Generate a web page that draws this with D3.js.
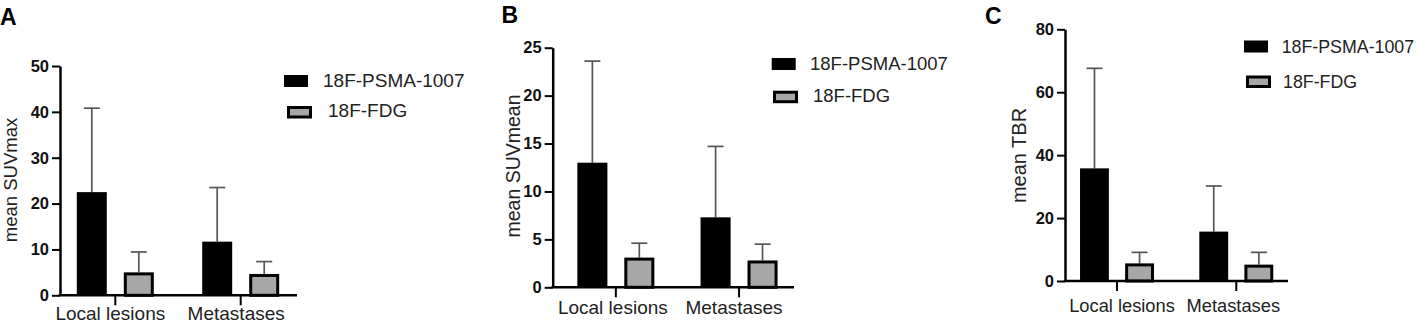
<!DOCTYPE html>
<html>
<head>
<meta charset="utf-8">
<script src="https://cdn.jsdelivr.net/npm/d3@7"></script>
<style>
  html, body { margin: 0; padding: 0; background: #fff; }
  svg { display: block; font-family: "Liberation Sans", Arial, sans-serif; }
</style>
</head>
<body>
<svg id="chart" width="1417" height="324"></svg>
<script>
// ---------- data ----------
const categories = ["Local lesions", "Metastases"];
const seriesNames = ["18F-PSMA-1007", "18F-FDG"];

// Panel A: mean SUVmax
const suvmaxPsmaMean = [22.5, 11.7];
const suvmaxPsmaSD   = [18.3, 11.8];
const suvmaxFdgMean  = [5.0, 4.65];
const suvmaxFdgSD    = [4.45, 2.7];
const suvmaxTicks    = [0, 10, 20, 30, 40, 50];

// Panel B: mean SUVmean
const suvmeanPsmaMean = [13.0, 7.3];
const suvmeanPsmaSD   = [10.6, 7.4];
const suvmeanFdgMean  = [3.1, 2.8];
const suvmeanFdgSD    = [1.5, 1.7];
const suvmeanTicks    = [0, 5, 10, 15, 20, 25];

// Panel C: mean TBR
const tbrPsmaMean = [35.8, 15.7];
const tbrPsmaSD   = [31.8, 14.5];
const tbrFdgMean  = [5.6, 5.2];
const tbrFdgSD    = [3.5, 3.9];
const tbrTicks    = [0, 20, 40, 60, 80];

// ---------- layout ----------
const panels = [
  { letter: "A", title: "mean SUVmax", psma: suvmaxPsmaMean, psmaSD: suvmaxPsmaSD, fdg: suvmaxFdgMean, fdgSD: suvmaxFdgSD, ticks: suvmaxTicks,
    ax: 60, axEnd: 297, bandW: 236, pi: 0.386, po: 0.134, y0: 295.3, yTop: 66, titleX: 16.5, titleY: 180, titleSize: 18.5,
    letterX: 0, letterY: 25, catDy: 25, catSize: 19, catOff: [-5, -4.5], barPad: 0.362, legSize: 19,
    leg: { x1: 284, y1: 75, x2: 287, y2: 106, tx1: 323, ty1: 87.3, tx2: 328, ty2: 117.3 } },
  { letter: "B", title: "mean SUVmean", psma: suvmeanPsmaMean, psmaSD: suvmeanPsmaSD, fdg: suvmeanFdgMean, fdgSD: suvmeanFdgSD, ticks: suvmeanTicks,
    ax: 552.7, axEnd: 794, bandW: 249.5, pi: 0.375, po: 0.2, y0: 287.3, yTop: 47.7, titleX: 520, titleY: 166, titleSize: 19.5,
    letterX: 501.5, letterY: 23.3, catDy: 27, catSize: 19, catOff: [-3, -5], barPad: 0.36, legSize: 18.5,
    leg: { x1: 771.7, y1: 58, x2: 773, y2: 90.7, tx1: 810, ty1: 70, tx2: 813, ty2: 102 } },
  { letter: "C", title: "mean TBR", psma: tbrPsmaMean, psmaSD: tbrPsmaSD, fdg: tbrFdgMean, fdgSD: tbrFdgSD, ticks: tbrTicks,
    ax: 1065, axEnd: 1288, bandW: 223.3, pi: 0.38, po: 0.126, y0: 281, yTop: 29.3, titleX: 1026, titleY: 155.5, titleSize: 20,
    letterX: 985, letterY: 24, catDy: 30.5, catSize: 18.3, catOff: [5, -3], barPad: 0.36, legSize: 17.8,
    leg: { x1: 1244, y1: 40.5, x2: 1246, y2: 75.5, tx1: 1281.7, ty1: 53.3, tx2: 1283, ty2: 88 } }
];

const svg = d3.select("#chart");
const fillColors = { "18F-PSMA-1007": "#000000", "18F-FDG": "#a7a7a7" };

panels.forEach(p => {
  const g = svg.append("g");
  const maxV = d3.max(p.ticks);
  const y = d3.scaleLinear().domain([0, maxV]).range([p.y0, p.yTop]);
  const x0 = d3.scaleBand().domain(categories).range([p.ax, p.ax + p.bandW])
    .paddingInner(p.pi).paddingOuter(p.po);
  const x1 = d3.scaleBand().domain(seriesNames).range([0, x0.bandwidth()])
    .paddingInner(p.barPad).paddingOuter(0);

  const rows = [];
  categories.forEach((c, i) => {
    rows.push({ cat: c, s: seriesNames[0], v: p.psma[i], sd: p.psmaSD[i] });
    rows.push({ cat: c, s: seriesNames[1], v: p.fdg[i], sd: p.fdgSD[i] });
  });

  // error bars
  const eb = g.append("g").attr("stroke", "#555").attr("stroke-width", 1.7).attr("fill", "none");
  rows.forEach(r => {
    const cx = x0(r.cat) + x1(r.s) + x1.bandwidth() / 2;
    eb.append("line").attr("x1", cx).attr("x2", cx).attr("y1", y(r.v)).attr("y2", y(r.v + r.sd));
    eb.append("line").attr("x1", cx - 8).attr("x2", cx + 8).attr("y1", y(r.v + r.sd)).attr("y2", y(r.v + r.sd));
  });

  // bars
  rows.forEach(r => {
    const bx = x0(r.cat) + x1(r.s);
    if (r.s === seriesNames[0]) {
      g.append("rect").attr("x", bx).attr("y", y(r.v)).attr("width", x1.bandwidth())
        .attr("height", y(0) - y(r.v)).attr("fill", fillColors[r.s]);
    } else {
      g.append("rect").attr("x", bx + 1.5).attr("y", y(r.v) + 1.5).attr("width", x1.bandwidth() - 3)
        .attr("height", y(0) - y(r.v) - 1.5).attr("fill", fillColors[r.s])
        .attr("stroke", "#000").attr("stroke-width", 3);
    }
  });

  // y axis
  const yAxis = d3.axisLeft(y).tickValues(p.ticks).tickSize(8).tickSizeOuter(0).tickPadding(3);
  const ya = g.append("g").attr("transform", `translate(${p.ax},0)`).call(yAxis);
  ya.select(".domain").attr("stroke", "#000").attr("stroke-width", 2.5);
  ya.selectAll(".tick line").attr("stroke", "#000").attr("stroke-width", 2);
  ya.selectAll(".tick text").attr("fill", "#111").attr("font-size", 16.5).attr("font-weight", "bold")
    .attr("font-family", "'Liberation Sans', Arial, sans-serif");

  // x axis
  g.append("line").attr("x1", p.ax - 1.25).attr("x2", p.axEnd).attr("y1", p.y0).attr("y2", p.y0)
    .attr("stroke", "#000").attr("stroke-width", 2.5);
  const xa = g.append("g");
  categories.forEach((c, i) => {
    const cx = x0(c) + x0.bandwidth() / 2;
    xa.append("line").attr("x1", cx).attr("x2", cx).attr("y1", p.y0).attr("y2", p.y0 + 10)
      .attr("stroke", "#000").attr("stroke-width", 2);
    xa.append("text").attr("x", cx + p.catOff[i]).attr("y", p.y0 + p.catDy).attr("text-anchor", "middle")
      .attr("font-size", p.catSize).attr("fill", "#222").text(c);
  });

  // y title
  g.append("text").attr("transform", `translate(${p.titleX},${p.titleY}) rotate(-90)`)
    .attr("text-anchor", "middle").attr("font-size", p.titleSize).attr("fill", "#222").text(p.title);

  // panel letter
  g.append("text").attr("x", p.letterX).attr("y", p.letterY).attr("font-size", 23)
    .attr("font-weight", "bold").attr("fill", "#000").text(p.letter);

  // legend
  const L = p.leg;
  g.append("rect").attr("x", L.x1).attr("y", L.y1).attr("width", 24).attr("height", 12).attr("fill", "#000");
  g.append("rect").attr("x", L.x2 + 1.5).attr("y", L.y2 + 1.5).attr("width", 22).attr("height", 9.5)
    .attr("fill", fillColors[seriesNames[1]]).attr("stroke", "#000").attr("stroke-width", 3);
  g.append("text").attr("x", L.tx1).attr("y", L.ty1).attr("font-size", p.legSize).attr("fill", "#222").text(seriesNames[0]);
  g.append("text").attr("x", L.tx2).attr("y", L.ty2).attr("font-size", p.legSize).attr("fill", "#222").text(seriesNames[1]);
});
</script>
</body>
</html>
